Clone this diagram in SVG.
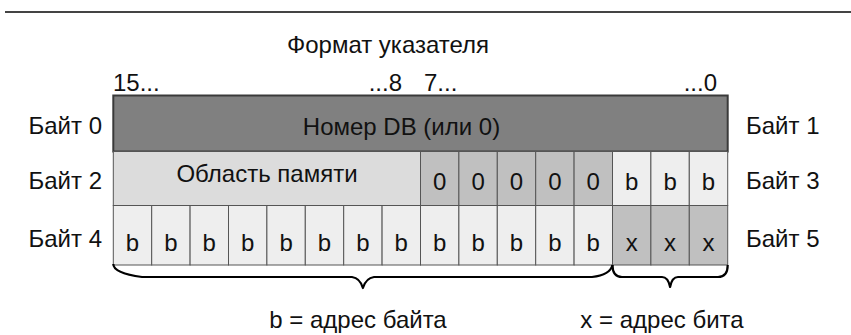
<svg xmlns="http://www.w3.org/2000/svg" width="851" height="335" viewBox="0 0 851 335">
<style>
text{font-family:"Liberation Sans",Arial,sans-serif;font-size:24px;fill:#111}
.c{text-anchor:middle}
.r{text-anchor:end}
.cell{stroke:#555;stroke-width:1}
.dk{fill:#808080}
.lt{fill:#dcdcdc}
.md{fill:#c0c0c0}
.wh{fill:#eeeeee}
.brace{fill:none;stroke:#000;stroke-width:2.2;stroke-linejoin:round}
</style>
<line x1="5" y1="12" x2="851" y2="12" stroke="#444" stroke-width="2"/>
<g id="header">
<text class="c" x="388" y="53">Формат указателя</text>
<text x="113" y="91">15...</text>
<text class="r" x="402" y="91">...8</text>
<text x="424" y="91">7...</text>
<text class="r" x="717" y="91">...0</text>
</g>
<g id="labels">
<text class="r" x="102" y="134">Байт 0</text>
<text class="r" x="102" y="189">Байт 2</text>
<text class="r" x="102" y="247">Байт 4</text>
<text x="746" y="134">Байт 1</text>
<text x="746" y="189">Байт 3</text>
<text x="746" y="247">Байт 5</text>
</g>
<g id="row1">
<rect class="dk" x="113.3" y="95.5" width="614.4" height="56" stroke="#3a3a3a" stroke-width="2"/>
<text class="c" x="401.5" y="135">Номер DB (или 0)</text>
</g>
<g id="row2">
<rect class="cell lt" x="113.3" y="151.5" width="307.2" height="54"/>
<text class="c" x="267" y="182">Область памяти</text>
<g id="zeros">
<rect class="cell md" x="420.5" y="151.5" width="38.4" height="54"/>
<rect class="cell md" x="458.9" y="151.5" width="38.4" height="54"/>
<rect class="cell md" x="497.3" y="151.5" width="38.4" height="54"/>
<rect class="cell md" x="535.7" y="151.5" width="38.4" height="54"/>
<rect class="cell md" x="574.1" y="151.5" width="38.4" height="54"/>
<text class="c" x="439.7" y="190">0</text>
<text class="c" x="478.1" y="190">0</text>
<text class="c" x="516.5" y="190">0</text>
<text class="c" x="554.9" y="190">0</text>
<text class="c" x="593.3" y="190">0</text>
</g>
<g id="b3">
<rect class="cell wh" x="612.5" y="151.5" width="38.4" height="54"/>
<rect class="cell wh" x="650.9" y="151.5" width="38.4" height="54"/>
<rect class="cell wh" x="689.3" y="151.5" width="38.4" height="54"/>
<text class="c" x="631.7" y="190">b</text>
<text class="c" x="670.1" y="190">b</text>
<text class="c" x="708.5" y="190">b</text>
</g>
</g>
<g id="row3">
<g id="bytes">
<rect class="cell wh" x="113.3" y="205.5" width="38.4" height="59.5"/>
<rect class="cell wh" x="151.7" y="205.5" width="38.4" height="59.5"/>
<rect class="cell wh" x="190.1" y="205.5" width="38.4" height="59.5"/>
<rect class="cell wh" x="228.5" y="205.5" width="38.4" height="59.5"/>
<rect class="cell wh" x="266.9" y="205.5" width="38.4" height="59.5"/>
<rect class="cell wh" x="305.3" y="205.5" width="38.4" height="59.5"/>
<rect class="cell wh" x="343.7" y="205.5" width="38.4" height="59.5"/>
<rect class="cell wh" x="382.1" y="205.5" width="38.4" height="59.5"/>
<rect class="cell wh" x="420.5" y="205.5" width="38.4" height="59.5"/>
<rect class="cell wh" x="458.9" y="205.5" width="38.4" height="59.5"/>
<rect class="cell wh" x="497.3" y="205.5" width="38.4" height="59.5"/>
<rect class="cell wh" x="535.7" y="205.5" width="38.4" height="59.5"/>
<rect class="cell wh" x="574.1" y="205.5" width="38.4" height="59.5"/>
<text class="c" x="132.5" y="251">b</text>
<text class="c" x="170.9" y="251">b</text>
<text class="c" x="209.3" y="251">b</text>
<text class="c" x="247.7" y="251">b</text>
<text class="c" x="286.1" y="251">b</text>
<text class="c" x="324.5" y="251">b</text>
<text class="c" x="362.9" y="251">b</text>
<text class="c" x="401.3" y="251">b</text>
<text class="c" x="439.7" y="251">b</text>
<text class="c" x="478.1" y="251">b</text>
<text class="c" x="516.5" y="251">b</text>
<text class="c" x="554.9" y="251">b</text>
<text class="c" x="593.3" y="251">b</text>
</g>
<g id="bits">
<rect class="cell md" x="612.5" y="205.5" width="38.4" height="59.5"/>
<rect class="cell md" x="650.9" y="205.5" width="38.4" height="59.5"/>
<rect class="cell md" x="689.3" y="205.5" width="38.4" height="59.5"/>
<text class="c" x="631.7" y="251">x</text>
<text class="c" x="670.1" y="251">x</text>
<text class="c" x="708.5" y="251">x</text>
</g>
</g>
<g id="connectors">
<path class="brace" d="M113.3,264 Q113.3,273 142,277 L352,277 Q360,278 362.9,288 Q366,278 374,277 L592,277 Q610,275 612.5,265"/>
<path class="brace" d="M612.5,265 Q612.5,277 622,277 L662,277 Q668,277 670.1,287 Q672,277 678,277 L718,277 Q727.7,277 727.7,265"/>
</g>
<g id="legend">
<text class="c" x="358" y="328">b = адрес байта</text>
<text class="c" x="662" y="328">x = адрес бита</text>
</g>
</svg>
